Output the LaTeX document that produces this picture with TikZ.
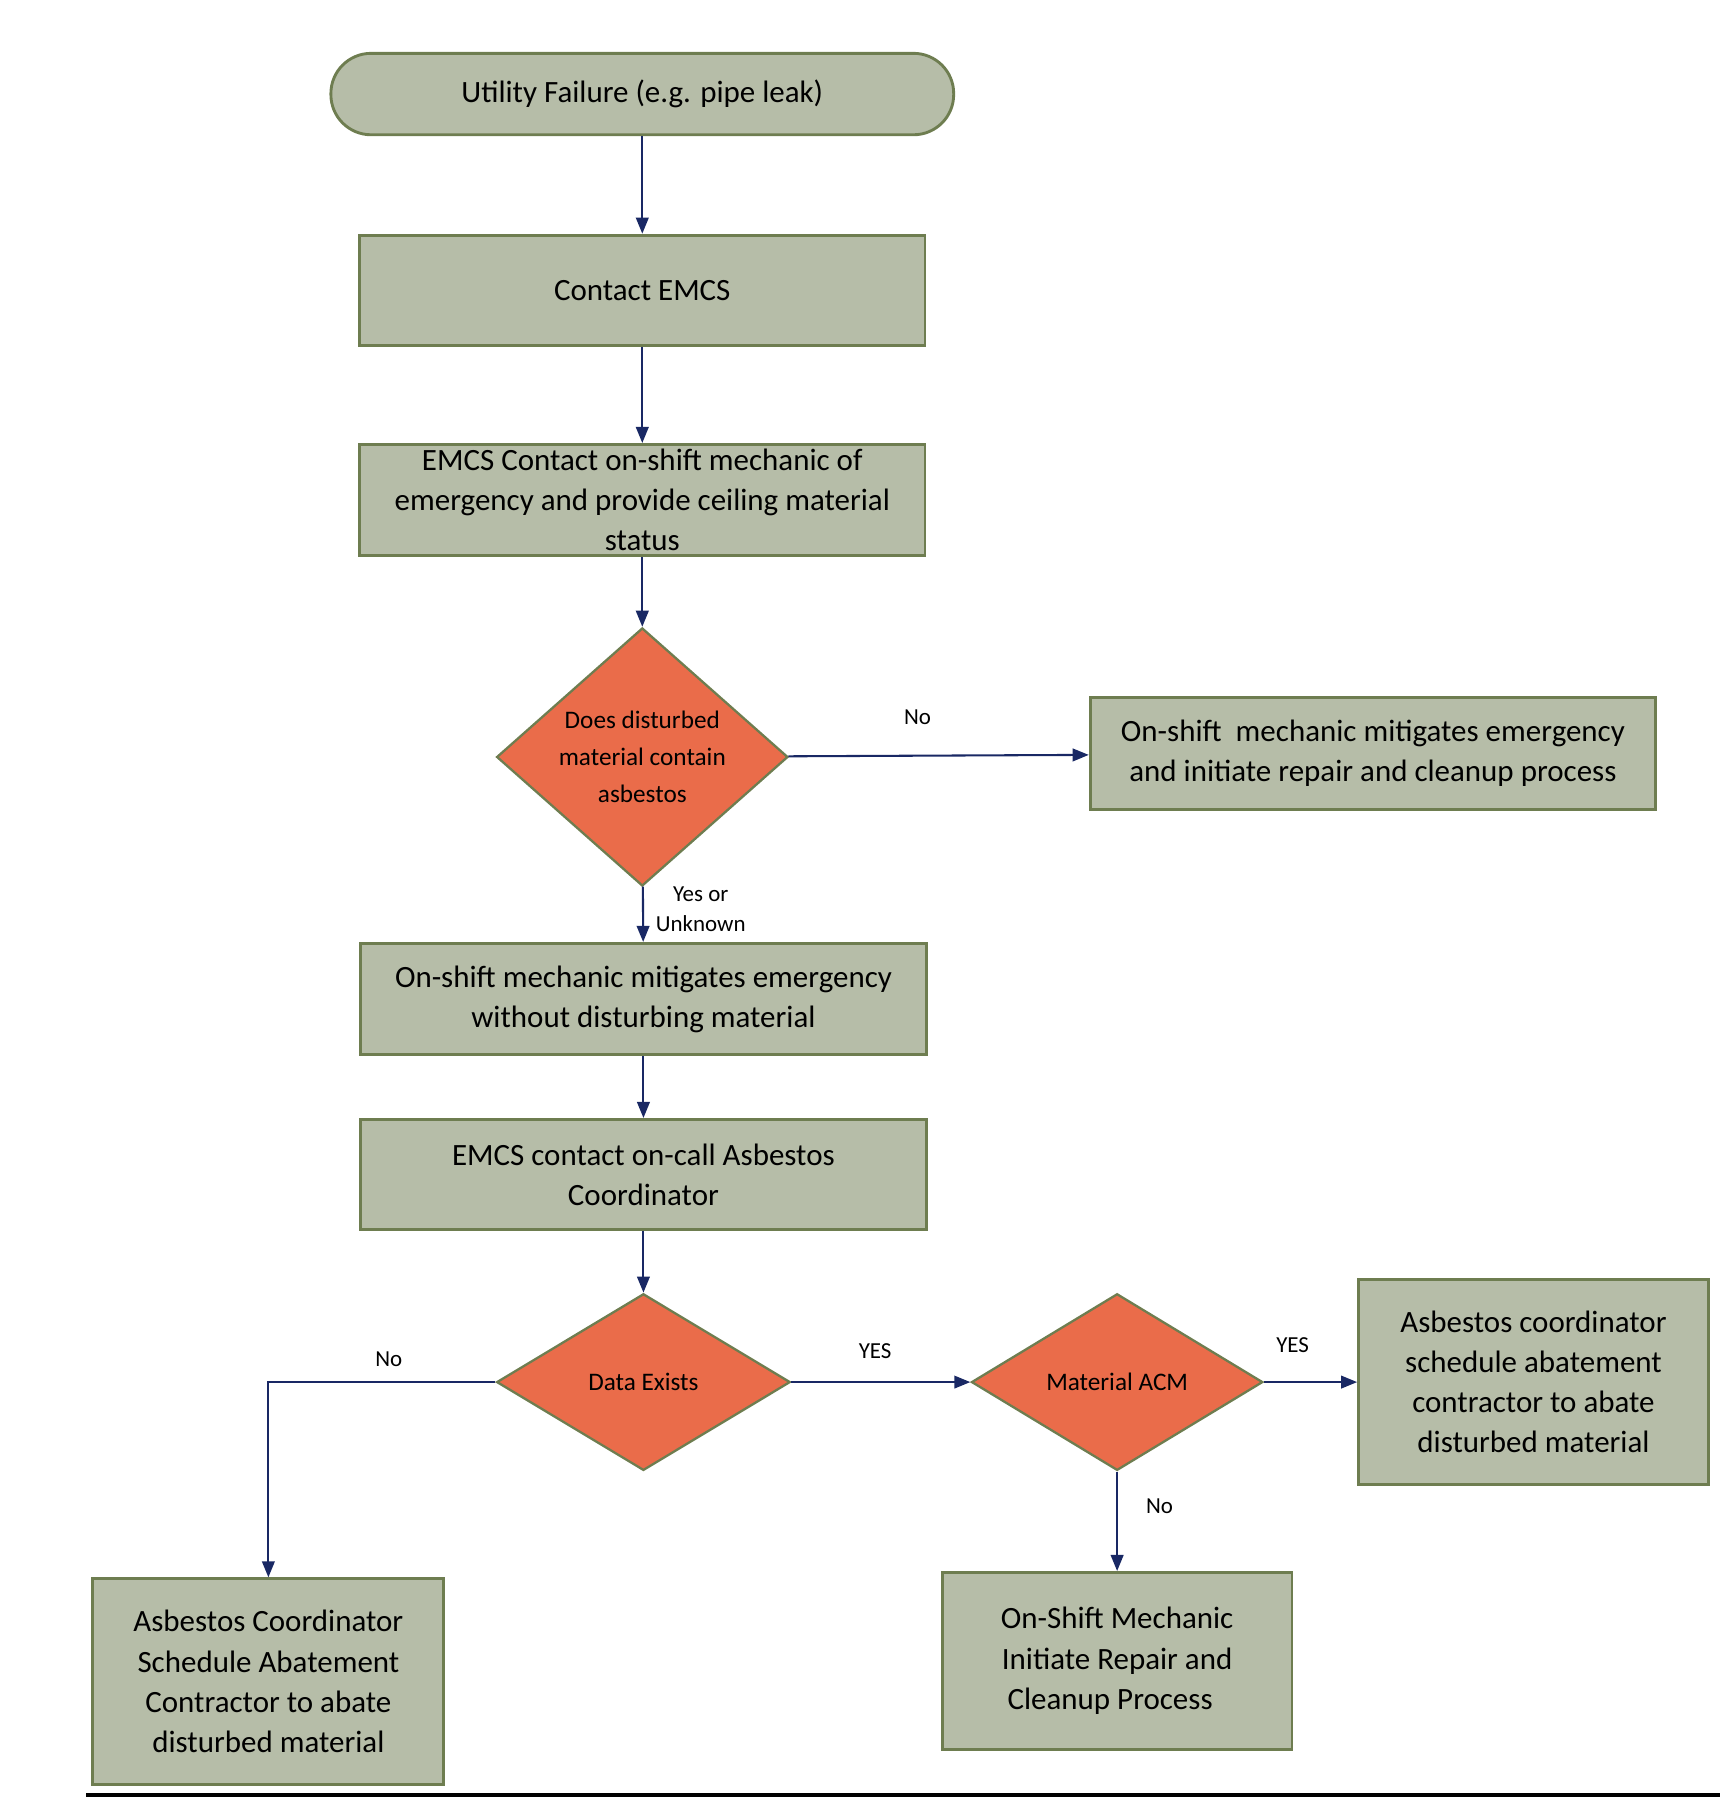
\documentclass[tikz,border=0pt]{standalone}
\usepackage{fontspec}
\setmainfont{Carlito}
\usetikzlibrary{shapes.geometric, arrows.meta, positioning}
\definecolor{boxgreen}{RGB}{182, 189, 168}
\definecolor{boxedge}{RGB}{110, 125, 80}
\definecolor{decorange}{RGB}{234, 108, 74}
\definecolor{linenavy}{RGB}{25, 40, 100}
\tikzset{
  box/.style={draw=boxedge, line width=2.5pt, fill=boxgreen, align=center, inner sep=4pt,
    font=\fontsize{27}{35}\selectfont},
  dec/.style={diamond, draw=boxedge, line width=2pt, fill=decorange, align=center, inner sep=0pt,
    font=\fontsize{22}{32}\selectfont},
  flow/.style={-{Triangle[length=14pt,width=11pt]}, draw=linenavy, line width=1.8pt},
  lbl/.style={font=\fontsize{20}{26}\selectfont, align=center}
}
\begin{document}
\begin{tikzpicture}[x=1pt, y=-1pt]
\useasboundingbox (0,0) rectangle (1500,1572);
% main column
\node[box, rounded corners=35pt, minimum width=543pt, minimum height=71pt] (start) at (560,82) {Utility Failure (e.g. pipe leak)};
\node[box, minimum width=493pt, minimum height=96pt] (contact) at (560,253) {Contact EMCS};
\node[box, minimum width=493pt, minimum height=97pt] (status) at (560,436) {EMCS Contact on-shift mechanic of\\emergency and provide ceiling material\\status};
\node[dec, minimum width=254pt, minimum height=211pt] (asb) at (560,660) {Does disturbed\\material contain\\asbestos};
\node[box, minimum width=493pt, minimum height=97pt] (repair) at (1197,657) {On-shift\ \ mechanic mitigates emergency\\and initiate repair and cleanup process};
\node[box, minimum width=493pt, minimum height=97pt] (mitigate) at (561,871) {On-shift mechanic mitigates emergency\\without disturbing material};
\node[box, minimum width=493pt, minimum height=96pt] (oncall) at (561,1024) {EMCS contact on-call Asbestos\\Coordinator};
\node[dec, minimum width=256pt, minimum height=154pt] (data) at (561,1205) {Data Exists};
\node[dec, minimum width=254pt, minimum height=154pt] (acm) at (974,1205) {Material ACM};
\node[box, minimum width=305pt, minimum height=179pt] (abate) at (1337,1205) {Asbestos coordinator\\schedule abatement\\contractor to abate\\disturbed material};
\node[box, minimum width=306pt, minimum height=179pt] (schedule) at (234,1466) {Asbestos Coordinator\\Schedule Abatement\\Contractor to abate\\disturbed material};
\node[box, minimum width=305pt, minimum height=154pt] (cleanup) at (974,1448) {On-Shift\ Mechanic\\Initiate Repair and\\Cleanup Process\ \ \ };

% connectors
\draw[flow] (start) -- (contact);
\draw[flow] (contact) -- (status);
\draw[flow] (status) -- (asb);
\draw[flow] (asb) -- (repair);
\draw[flow] (asb) -- (mitigate);
\draw[flow] (mitigate) -- (oncall);
\draw[flow] (oncall) -- (data);
\draw[flow] (data) -- (acm);
\draw[flow] (acm) -- (abate);
\draw[flow] (acm) -- (cleanup);
\draw[flow] (data.west) -| (schedule.north);

% labels
\node[lbl] at (800,625) {No};
\node[lbl] at (611,793) {Yes or\\Unknown};
\node[lbl] at (339,1185) {No};
\node[lbl] at (763,1178) {YES};
\node[lbl] at (1127,1173) {YES};
\node[lbl] at (1011,1313) {No};

% bottom rule
\draw[line width=3pt] (75,1565) -- (1500,1565);
\end{tikzpicture}
\end{document}
